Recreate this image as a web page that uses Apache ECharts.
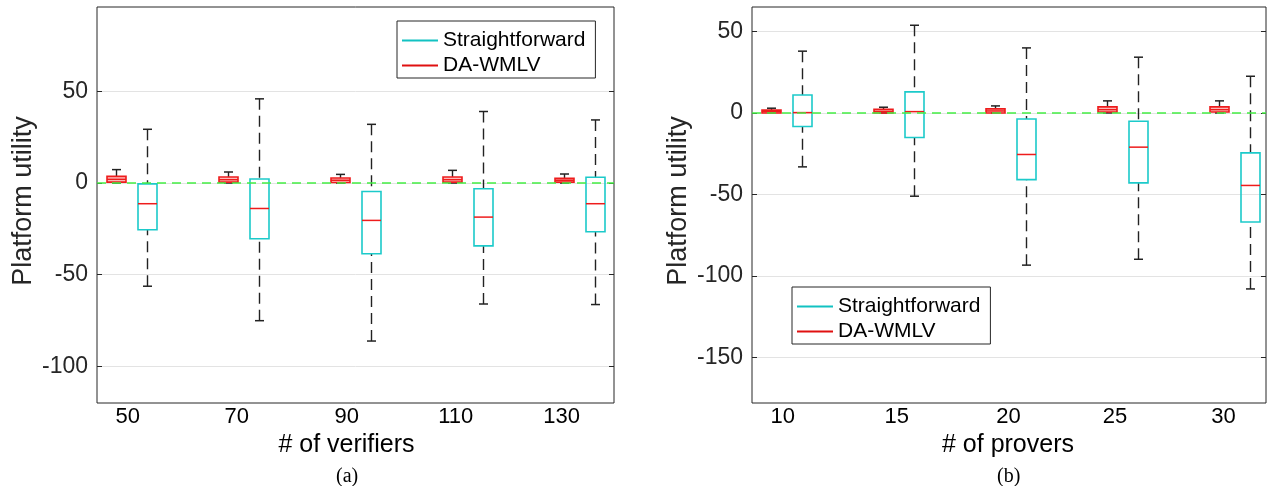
<!DOCTYPE html>
<html>
<head>
<meta charset="utf-8">
<script src="https://cdn.jsdelivr.net/npm/echarts@6/dist/echarts.min.js"></script>
<style>
  html, body { margin: 0; padding: 0; background: #fff; }
  #chart { width: 1268px; height: 486px; }
</style>
</head>
<body>
<div id="chart"></div>
<script>
// (a) # of verifiers
const verifierLabels = ["50", "70", "90", "110", "130"];
const verifierTickPos = [0.964, 1.937, 2.919, 3.892, 4.838];
// [min, q1, median, q3, max]
const verifierDA = [
  [0, 0.5, 2, 3.6, 7.3],
  [0, 0.5, 1.8, 3.3, 6],
  [0, 0.3, 1.5, 2.7, 4.7],
  [0, 0.5, 1.8, 3.3, 6.9],
  [0, 0.5, 1.5, 2.5, 4.9],
];
const verifierSF = [
  [-56.3, -25.5, -11.3, -0.5, 29.3],
  [-75.1, -30.4, -13.9, 2.2, 45.9],
  [-86.2, -38.6, -20.4, -4.6, 32],
  [-66, -34.3, -18.6, -3.1, 39],
  [-66.3, -26.6, -11.3, 3.1, 34.4],
];

// (b) # of provers
const proverLabels = ["10", "15", "20", "25", "30"];
const proverTickPos = [0.968, 1.986, 2.983, 3.935, 4.902];
const proverDA = [
  [0, 0, 0.8, 1.7, 2.9],
  [0, 0, 1, 2.3, 3.5],
  [0, 0, 1.2, 2.5, 4.3],
  [0, 0.6, 2, 3.7, 7.4],
  [0, 0.6, 2, 3.7, 7.4],
];
const proverSF = [
  [-33.1, -8.3, 0.2, 11, 37.9],
  [-51.1, -15.1, 0.8, 12.9, 53.8],
  [-93.4, -40.9, -25.5, -3.7, 39.9],
  [-89.8, -42.9, -21, -5.1, 34.2],
  [-108, -66.9, -44.5, -24.5, 22.5],
];

const yTicksA = [-100, -50, 0, 50];
const yTicksB = [-150, -100, -50, 0, 50];

const FONT = "Liberation Sans, Arial, Helvetica, sans-serif";
const CYAN = "#1ccaca";
const RED = "#ee1c1c";
const INK = "#262626";

const chart = echarts.init(document.getElementById("chart"));

// 把每组统计量转成 custom series 的数据 [组序号, min, q1, med, q3, max]
function toData(stats) {
  return stats.map((s, i) => [i + 1].concat(s));
}

function makeBox(offset, stroke, fill, medianColor) {
  return function (params, api) {
    const g = api.value(0) + offset;
    const top = api.coord([g, api.value(5)]);
    const q3 = api.coord([g, api.value(4)]);
    const med = api.coord([g, api.value(3)]);
    const q1 = api.coord([g, api.value(2)]);
    const bot = api.coord([g, api.value(1)]);
    const x = Math.round(top[0]) + 0.5;
    const hw = 9.5, cw = 4.5;
    const whisk = { stroke: "#222", lineWidth: 1.4, lineDash: [11, 6] };
    const capS = { stroke: "#222", lineWidth: 1.5 };
    return {
      type: "group",
      children: [
        { type: "line", shape: { x1: x, y1: top[1], x2: x, y2: q3[1] }, style: whisk },
        { type: "line", shape: { x1: x, y1: bot[1], x2: x, y2: q1[1] }, style: whisk },
        { type: "line", shape: { x1: x - cw, y1: top[1], x2: x + cw, y2: top[1] }, style: capS },
        { type: "line", shape: { x1: x - cw, y1: bot[1], x2: x + cw, y2: bot[1] }, style: capS },
        {
          type: "rect",
          shape: { x: x - hw, y: q3[1], width: 2 * hw, height: q1[1] - q3[1] },
          style: { stroke: stroke, fill: fill, lineWidth: 1.6 },
        },
        { type: "line", shape: { x1: x - hw, y1: med[1], x2: x + hw, y2: med[1] }, style: { stroke: medianColor, lineWidth: 1.5 } },
      ],
    };
  };
}

function xAxisFor(gridIndex, min, max, ticks, labels, name, pad) {
  return {
    type: "value",
    gridIndex: gridIndex,
    min: min,
    max: max,
    axisLine: { show: false },
    axisTick: { show: false },
    splitLine: { show: false },
    axisLabel: {
      customValues: ticks,
      margin: 3,
      color: "#000",
      fontSize: 22,
      fontFamily: FONT,
      formatter: (v) => {
        let best = 0;
        ticks.forEach((t, i) => { if (Math.abs(t - v) < Math.abs(ticks[best] - v)) best = i; });
        return labels[best];
      },
    },
    name: name,
    nameLocation: "middle",
    nameGap: 17,
    nameTextStyle: { fontSize: 25, fontFamily: FONT, color: "#000", padding: pad },
  };
}

function yAxisFor(gridIndex, min, max, ticks, left) {
  return {
    type: "value",
    gridIndex: gridIndex,
    position: left ? "left" : "right",
    min: min,
    max: max,
    axisLine: { show: false },
    axisTick: { show: true, inside: true, length: 5, customValues: ticks, lineStyle: { color: INK } },
    axisLabel: left
      ? { customValues: ticks, margin: 9, color: INK, fontSize: 23, fontFamily: FONT }
      : { show: false },
    splitLine: left ? { show: true, lineStyle: { color: "#e3e3e3", width: 1 } } : { show: false },
    name: left ? "Platform utility" : "",
    nameLocation: "middle",
    nameGap: 60,
    nameTextStyle: { fontSize: 27, fontFamily: FONT, color: INK, padding: [0, 0, 0, 8] },
  };
}

function zeroLine() {
  return {
    silent: true,
    symbol: "none",
    label: { show: false },
    lineStyle: { color: "#44ee44", type: [9, 6], width: 1.5 },
    data: [{ yAxis: 0 }],
  };
}

function legendAt(left, top) {
  return {
    orient: "vertical",
    left: left,
    top: top,
    icon: "rect",
    itemWidth: 36,
    itemHeight: 2,
    itemGap: 4,
    padding: [9, 10, 2, 5],
    borderColor: INK,
    borderWidth: 1,
    backgroundColor: "#fff",
    borderRadius: 0,
    textStyle: { fontSize: 21, fontFamily: FONT, color: "#000" },
    data: [
      { name: "Straightforward", itemStyle: { color: "#12c2c2" } },
      { name: "DA-WMLV", itemStyle: { color: "#e01010" } },
    ],
  };
}

const option = {
  animation: false,
  backgroundColor: "#fff",
  grid: [
    { left: 97, top: 7, width: 517, height: 396, show: true, borderColor: INK, borderWidth: 1, backgroundColor: "transparent" },
    { left: 752, top: 7, width: 514, height: 396, show: true, borderColor: INK, borderWidth: 1, backgroundColor: "transparent" },
  ],
  xAxis: [
    xAxisFor(0, 0.689, 5.305, verifierTickPos, verifierLabels, "# of verifiers", [0, 18, 0, 0]),
    xAxisFor(1, 0.694, 5.282, proverTickPos, proverLabels, "# of provers", [0, 2, 0, 0]),
  ],
  yAxis: [
    yAxisFor(0, -120, 96, yTicksA, true),
    yAxisFor(0, -120, 96, yTicksA, false),
    yAxisFor(1, -178, 65, yTicksB, true),
    yAxisFor(1, -178, 65, yTicksB, false),
  ],
  legend: [legendAt(397, 21), legendAt(792, 287)],
  graphic: [
    { type: "text", left: 336, top: 467, style: { text: "(a)", font: "20px Liberation Serif, Times New Roman, serif", fill: "#000" } },
    { type: "text", left: 997, top: 467, style: { text: "(b)", font: "20px Liberation Serif, Times New Roman, serif", fill: "#000" } },
  ],
  series: [
    {
      name: "DA-WMLV", type: "custom", xAxisIndex: 0, yAxisIndex: 0,
      itemStyle: { color: RED },
      encode: { x: 0, y: [1, 2, 3, 4, 5] },
      renderItem: makeBox(-0.137, RED, "rgba(255,80,80,0.35)", RED),
      data: toData(verifierDA),
      markLine: zeroLine(),
    },
    {
      name: "Straightforward", type: "custom", xAxisIndex: 0, yAxisIndex: 0,
      itemStyle: { color: CYAN },
      encode: { x: 0, y: [1, 2, 3, 4, 5] },
      renderItem: makeBox(0.137, CYAN, "rgba(255,255,255,0)", RED),
      data: toData(verifierSF),
    },
    {
      name: "DA-WMLV", type: "custom", xAxisIndex: 1, yAxisIndex: 2,
      itemStyle: { color: RED },
      encode: { x: 0, y: [1, 2, 3, 4, 5] },
      renderItem: makeBox(-0.137, RED, "rgba(255,80,80,0.35)", RED),
      data: toData(proverDA),
      markLine: zeroLine(),
    },
    {
      name: "Straightforward", type: "custom", xAxisIndex: 1, yAxisIndex: 2,
      itemStyle: { color: CYAN },
      encode: { x: 0, y: [1, 2, 3, 4, 5] },
      renderItem: makeBox(0.137, CYAN, "rgba(255,255,255,0)", RED),
      data: toData(proverSF),
    },
  ],
};

chart.setOption(option);
</script>
</body>
</html>
